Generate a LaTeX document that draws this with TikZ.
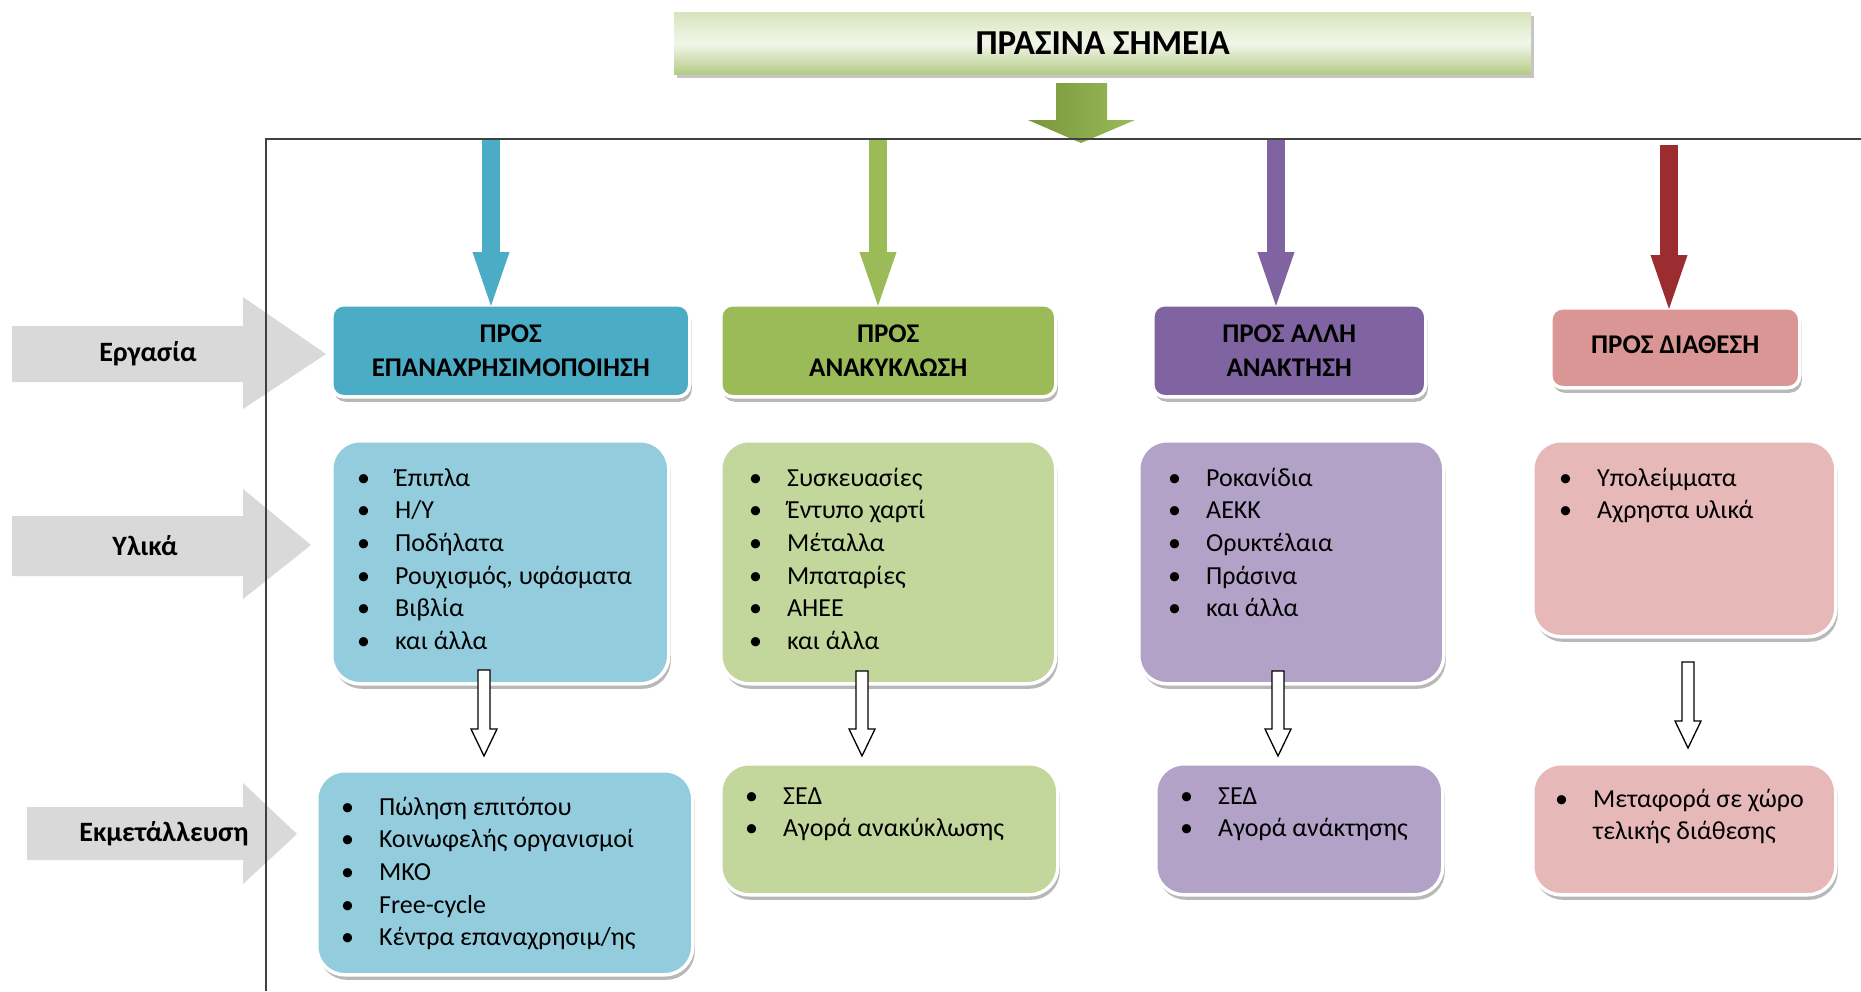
\documentclass[tikz,border=0pt]{standalone}
\usepackage{fontspec}
\setmainfont{Carlito}
\usetikzlibrary{shadows,arrows.meta,calc}
\definecolor{hBlue}{HTML}{4BACC6}
\definecolor{bBlue}{HTML}{93CDDD}
\definecolor{hGreen}{HTML}{9BBB59}
\definecolor{bGreen}{HTML}{C3D69B}
\definecolor{hPurple}{HTML}{8064A2}
\definecolor{bPurple}{HTML}{B3A2C7}
\definecolor{hRed}{HTML}{D99694}
\definecolor{bRed}{HTML}{E6B9B8}
\definecolor{aRed}{HTML}{9B2D30}
\definecolor{greyArrow}{HTML}{D9D9D9}
\definecolor{titleTop}{HTML}{D7E4BD}
\definecolor{titleMid}{HTML}{F2F6EA}
\definecolor{titleBot}{HTML}{B5CB86}
\definecolor{bigArrowL}{HTML}{77963A}
\definecolor{bigArrowR}{HTML}{9BBB59}
\newcommand{\blt}[1]{\makebox[38pt][l]{\textbullet}#1\strut}
\begin{document}
\begin{tikzpicture}[x=1pt,y=-1pt,
  boxbase/.style={draw=white, line width=3.5pt, anchor=north west, inner sep=0pt,
    drop shadow={shadow xshift=2pt, shadow yshift=-5pt, fill=black!55}},
  hdr/.style={boxbase, rounded corners=12pt, align=center,
    font=\bfseries\fontsize{27}{34.5}\selectfont},
  listbox/.style={boxbase, rounded corners=28pt},
  listtxt/.style={anchor=north west, inner sep=0pt, align=left,
    font=\fontsize{26}{32.7}\selectfont},
  sidelbl/.style={font=\bfseries\fontsize{28}{32}\selectfont, inner sep=0pt},
  sidearrow/.style={fill=greyArrow, draw=none},
  toparrow/.style={line width=18pt, shorten >=-11pt, -{Triangle[length=62pt, width=31pt]}},
  hollow/.style={draw=black, line width=1.3pt, fill=white, line join=miter}
]
\useasboundingbox (0,0) rectangle (1861,991);
\fill[white] (0,0) rectangle (1861,991);

% title
\node[draw=none, minimum width=857pt, minimum height=62pt, anchor=north west, inner sep=0pt,
  top color=titleTop, bottom color=titleBot, middle color=titleMid,
  drop shadow={shadow xshift=3pt, shadow yshift=-4pt, fill=black!45},
  font=\bfseries\fontsize{35}{40}\selectfont] (title) at (674,12) {ΠΡΑΣΙΝΑ ΣΗΜΕΙΑ};

% big green arrow
\shade[left color=bigArrowL, right color=bigArrowR] (1056,83) -- (1107,83) -- (1107,120) -- (1135,120) -- (1081,143)
  -- (1028,120) -- (1056,120) -- cycle;

% side arrows
\fill[sidearrow] (12,326) -- (243,326) -- (243,297) -- (326,354) -- (243,409) -- (243,382) -- (12,382) -- cycle;
\fill[sidearrow] (12,516) -- (243,516) -- (243,489) -- (311,545) -- (243,599) -- (243,576) -- (12,576) -- cycle;
\fill[sidearrow] (27,807) -- (243,807) -- (243,783) -- (297,834) -- (243,884) -- (243,860) -- (27,860) -- cycle;
\node[sidelbl] (lab1) at (148,354) {Εργασία};
\node[sidelbl] (lab2) at (145,546) {Υλικά};
\node[sidelbl] (lab3) at (164,834) {Εκμετάλλευση};

% frame
\coordinate (fc) at (266,139);
\draw[line width=2pt, black!75] (1861,139) -- (fc) -- (266,991);

% headers
\node[hdr, fill=hBlue, minimum width=358pt, minimum height=92pt] (h1) at (330,303) {ΠΡΟΣ\\ΕΠΑΝΑΧΡΗΣΙΜΟΠΟΙΗΣΗ};
\node[hdr, fill=hGreen, minimum width=335pt, minimum height=92pt] (h2) at (719,303) {ΠΡΟΣ\\ΑΝΑΚΥΚΛΩΣΗ};
\node[hdr, fill=hPurple, minimum width=273pt, minimum height=92pt] (h3) at (1151,303) {ΠΡΟΣ ΑΛΛΗ\\ΑΝΑΚΤΗΣΗ};
\node[hdr, fill=hRed, minimum width=249pt, minimum height=80pt] (h4) at (1549,306) {\raisebox{7pt}{ΠΡΟΣ ΔΙΑΘΕΣΗ}};

% top arrows
\coordinate (t1) at (491,140);
\coordinate (t2) at (878,140);
\coordinate (t3) at (1276,140);
\coordinate (t4) at (1669,145);
\draw[toparrow, hBlue] (t1) -- (t1 |- h1.north);
\draw[toparrow, hGreen] (t2) -- (t2 |- h2.north);
\draw[toparrow, hPurple] (t3) -- (t3 |- h3.north);
\draw[toparrow, aRed] (t4) -- (t4 |- h4.north);

% material boxes
\node[listbox, fill=bBlue, minimum width=337pt, minimum height=243pt] (m1) at (330,439) {};
\node[listbox, fill=bGreen, minimum width=335pt, minimum height=243pt] (m2) at (719,439) {};
\node[listbox, fill=bPurple, minimum width=305pt, minimum height=243pt] (m3) at (1137,439) {};
\node[listbox, fill=bRed, minimum width=303pt, minimum height=196pt] (m4) at (1531,439) {};

% exploitation boxes
\node[listbox, fill=bBlue, minimum width=376pt, minimum height=204pt] (e1) at (315,769) {};
\node[listbox, fill=bGreen, minimum width=337pt, minimum height=131pt] (e2) at (719,762) {};
\node[listbox, fill=bPurple, minimum width=287pt, minimum height=131pt] (e3) at (1154,762) {};
\node[listbox, fill=bRed, minimum width=303pt, minimum height=131pt] (e4) at (1531,762) {};

% lists
\node[listtxt] (m1t) at (357,463) {\blt{Έπιπλα}\\\blt{Η/Υ}\\\blt{Ποδήλατα}\\\blt{Ρουχισμός, υφάσματα}\\\blt{Βιβλία}\\\blt{και άλλα}};
\node[listtxt] (m2t) at (749,463) {\blt{Συσκευασίες}\\\blt{Έντυπο χαρτί}\\\blt{Μέταλλα}\\\blt{Μπαταρίες}\\\blt{ΑΗΕΕ}\\\blt{και άλλα}};
\node[listtxt] (m3t) at (1168,463) {\blt{Ροκανίδια}\\\blt{ΑΕΚΚ}\\\blt{Ορυκτέλαια}\\\blt{Πράσινα}\\\blt{και άλλα}};
\node[listtxt] (m4t) at (1559,463) {\blt{Υπολείμματα}\\\blt{Αχρηστα υλικά}};
\node[listtxt] (e1t) at (341,792) {\blt{Πώληση επιτόπου}\\\blt{Κοινωφελής οργανισμοί}\\\blt{ΜΚΟ}\\\blt{Free-cycle}\\\blt{Κέντρα επαναχρησιμ/ης}};
\node[listtxt] (e2t) at (745,781) {\blt{ΣΕΔ}\\\blt{Αγορά ανακύκλωσης}};
\node[listtxt] (e3t) at (1180,781) {\blt{ΣΕΔ}\\\blt{Αγορά ανάκτησης}};
\node[listtxt] (e4t) at (1555,784) {\blt{Μεταφορά σε χώρο}\\\hspace*{38pt}τελικής διάθεσης\strut};

% hollow arrows
\coordinate (a1s) at (484,670); \coordinate (a1e) at (484,756);
\coordinate (a2s) at (862,671); \coordinate (a2e) at (862,756);
\coordinate (a3s) at (1278,671); \coordinate (a3e) at (1278,756);
\coordinate (a4s) at (1688,662); \coordinate (a4e) at (1688,748);
\foreach \s/\e in {a1s/a1e, a2s/a2e, a3s/a3e, a4s/a4e}{
  \draw[hollow] let \p1=(\s), \p2=(\e) in
    (\x1-6pt,\y1) -- (\x1-6pt,\y2+27pt) -- (\x1-13pt,\y2+27pt) -- (\x2,\y2)
    -- (\x1+13pt,\y2+27pt) -- (\x1+6pt,\y2+27pt) -- (\x1+6pt,\y1) -- cycle;
}
\end{tikzpicture}
\end{document}
